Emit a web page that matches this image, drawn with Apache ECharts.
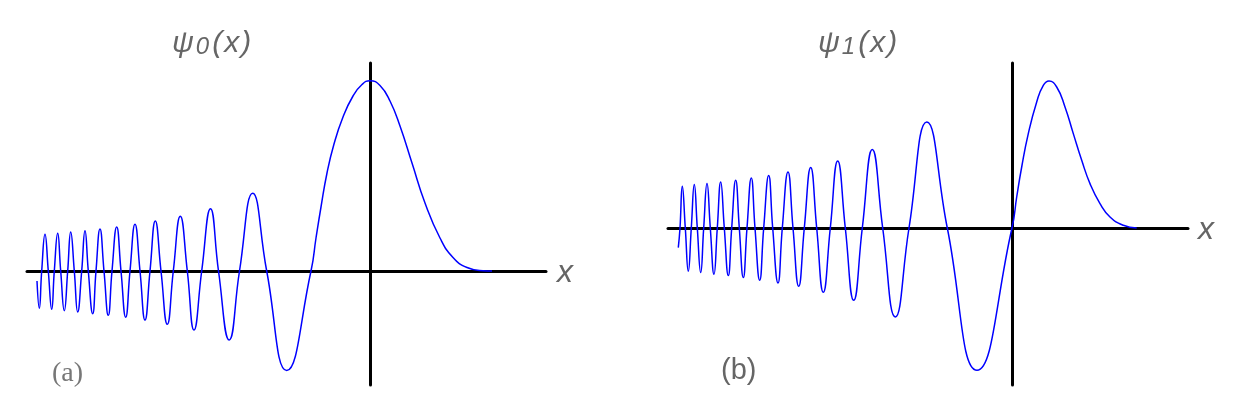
<!DOCTYPE html>
<html>
<head>
<meta charset="utf-8">
<script src="https://cdn.jsdelivr.net/npm/echarts@6/dist/echarts.min.js"></script>
<style>
  html, body { margin: 0; padding: 0; background: #fff; }
  #chart { width: 1243px; height: 407px; }
</style>
</head>
<body>
<div id="chart"></div>
<script>
// values read off the picture: x measured from the vertical axis, y from the horizontal axis
// panel (a), psi_0
var psi0X = [-333, -330.7, -328.3, -325, -321.7, -318.3, -315.7, -312.3, -309.3, -305.7, -302.3, -299.3,
  -295.7, -292.3, -288.3, -285, -281.7, -277.3, -274, -270, -266, -261.7, -258, -253.3, -249, -244.3,
  -240, -235, -230, -225, -220, -214.7, -209, -202.7, -196.7, -189.7, -182.7, -176, -168.3, -159.5,
  -151.5, -140.8, -130.5, -117.3, -103.3, -83.3, -59,
  -54, -49, -43, -36, -27, -17, -8, 0,
  10, 20, 30, 42, 55, 70, 83, 97, 113, 122];
var psi0Y = [-10, -37.3, 0, 36.7, 0, -38.3, 0, 37.7, 0, -39.7, 0, 39,
  0, -41, 0, 40.3, 0, -42.7, 0, 42, 0, -44.3, 0, 44, 0, -46.3,
  0, 46.7, 0, -49, 0, 50, 0, -53.3, 0, 54.7, 0, -59, 0, 62.3,
  0, -69, 0, 77.7, 0, -99.5, 0,
  33, 64, 98, 127, 154, 175, 186.5, 190.3,
  185.5, 170, 145, 108, 68, 33, 13.5, 3.5, 0.3, 0];

// panel (b), psi_1
var psi1X = [-333.7, -332, -329.7, -326.7, -323.7, -320.7, -317.7, -314.7, -311.3, -308.3, -305, -301.7,
  -298, -294.7, -291.3, -287.7, -283.7, -280.3, -276.3, -272.7, -268.7, -265, -260.7, -257, -252.3,
  -248.3, -243.3, -239.3, -234, -229.7, -224, -219, -213.3, -207.7, -201.3, -195.3, -188.7, -181.7,
  -174.3, -166.7, -158.3, -149.7, -139.7, -129.3, -116.7, -103, -85.2, -64.7, -35, 0,
  4.7, 9.7, 16.3, 24.7, 31.3, 37, 44.7, 53, 61.3, 69.7, 78, 88, 98, 111.3, 124.7];
var psi1Y = [-19.6, 0, 41.7, 0, -43.3, 0, 43.4, 0, -44.6, 0, 44.4, 0,
  -46.3, 0, 46, 0, -47.6, 0, 47.7, 0, -49.6, 0, 50, 0, -52.3,
  0, 52.4, 0, -55, 0, 56, 0, -58.3, 0, 60.4, 0, -64.3, 0,
  67, 0, -72.3, 0, 78.4, 0, -89, 0, 106, 0, -142.3, 0,
  31, 61, 94.4, 126, 142.7, 147, 141, 121, 94.4, 67.7, 44.4, 24.4, 11, 2.7, 0];

var panelLabels = ['(a)', '(b)'];

function pairs(xs, ys) {
  return xs.map(function (x, i) { return [x, ys[i]]; });
}

var chart = echarts.init(document.getElementById('chart'), null, { renderer: 'canvas' });

var axisLine = { show: true, onZero: true, lineStyle: { color: '#000', width: 3 } };
function ax(idx, min, max) {
  return { type: 'value', gridIndex: idx, min: min, max: max,
    axisLine: axisLine, axisTick: { show: false }, axisLabel: { show: false }, splitLine: { show: false } };
}

var grey = { fontFamily: 'Liberation Sans', fontStyle: 'italic', fill: '#666' };
function titleText(sub, x) {
  return {
    type: 'text', left: x, top: 29,
    style: {
      text: '{p|ψ}{b|' + sub + '}{a|(}{a|x}{a|)}',
      rich: {
        p: Object.assign({ fontSize: 30, padding: [0, 2, 0, 0] }, grey),
        a: Object.assign({ fontSize: 30, padding: [0, 1, 0, 1] }, grey),
        b: Object.assign({ fontSize: 24, padding: [7, 2, 0, 0] }, grey)
      }
    }
  };
}

var option = {
  backgroundColor: '#fff',
  animation: false,
  grid: [
    { left: 27, top: 63, width: 519, height: 322 },
    { left: 668, top: 63, width: 520, height: 322 }
  ],
  xAxis: [ax(0, -343, 176), ax(1, -344, 176)],
  yAxis: [ax(0, -114, 208), ax(1, -157, 165)],
  series: [
    { type: 'line', xAxisIndex: 0, yAxisIndex: 0, data: pairs(psi0X, psi0Y),
      smooth: 0.5, showSymbol: false,
      lineStyle: { color: '#0000ff', width: 1.5 } },
    { type: 'line', xAxisIndex: 1, yAxisIndex: 1, data: pairs(psi1X, psi1Y),
      smooth: 0.5, showSymbol: false,
      lineStyle: { color: '#0000ff', width: 1.5 } }
  ],
  graphic: [
    titleText('0', 172),
    titleText('1', 818),
    { type: 'text', left: 557, top: 257,
      style: { text: 'x', fontSize: 32, fontFamily: 'Liberation Sans', fontStyle: 'italic', fill: '#666' } },
    { type: 'text', left: 1198, top: 214,
      style: { text: 'x', fontSize: 32, fontFamily: 'Liberation Sans', fontStyle: 'italic', fill: '#666' } },
    { type: 'text', left: 52, top: 360,
      style: { text: panelLabels[0], fontSize: 28, fontFamily: 'Liberation Serif', fill: '#777' } },
    { type: 'text', left: 721, top: 356,
      style: { text: panelLabels[1], fontSize: 29, fontFamily: 'Liberation Sans', fill: '#666' } }
  ]
};
chart.setOption(option);
</script>
</body>
</html>
